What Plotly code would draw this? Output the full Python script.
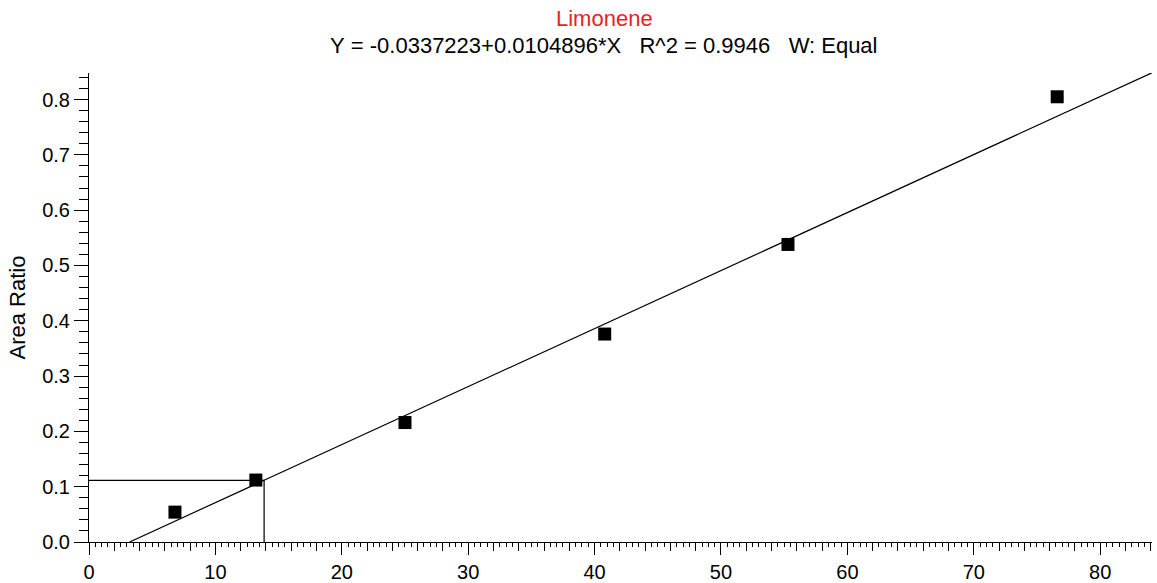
import plotly.graph_objects as go
import numpy as np

# Calibration standards
conc = [6.8, 13.2, 25.0, 40.8, 55.3, 76.6]
area_ratio = [0.054, 0.112, 0.216, 0.376, 0.538, 0.805]

# Regression (as reported)
intercept = -0.0337223
slope = 0.0104896
r2 = 0.9946
sample_ratio = 0.1116

x_max = 84.1
y_max = 0.848

W, H = 1157, 583
L, R, T, B = 89, 5, 73, 41

x0 = -intercept / slope
line_x = [x0, x_max]
line_y = [intercept + slope * v for v in line_x]
sample_x = (sample_ratio - intercept) / slope

fig = go.Figure()
fig.add_trace(go.Scatter(x=line_x, y=line_y, mode="lines",
                         line=dict(color="black", width=1.2), hoverinfo="skip"))
fig.add_trace(go.Scatter(x=[0, sample_x, sample_x], y=[sample_ratio, sample_ratio, 0],
                         mode="lines", line=dict(color="black", width=1.2), hoverinfo="skip"))
fig.add_trace(go.Scatter(x=conc, y=area_ratio, mode="markers",
                         marker=dict(symbol="square", size=13, color="black",
                                     line=dict(width=0))))
# invisible trace for secondary tick axis
fig.add_trace(go.Scatter(x=[0], y=[0], xaxis="x2", mode="markers",
                         marker=dict(opacity=0), hoverinfo="skip"))

font = "Liberation Sans, Arial, sans-serif"
fig.update_layout(
    width=W, height=H,
    margin=dict(l=L, r=R, t=T, b=B, autoexpand=False),
    paper_bgcolor="white", plot_bgcolor="white",
    showlegend=False,
    font=dict(family=font, color="black"),
    xaxis=dict(range=[0, x_max], dtick=10, tick0=0, showgrid=False, zeroline=False,
               automargin=False,
               showline=True, linecolor="black", linewidth=1,
               ticks="outside", ticklen=12, tickwidth=1, tickcolor="black",
               tickfont=dict(size=20, color="black"),
               minor=dict(dtick=2, tick0=0, ticks="outside", ticklen=8, tickwidth=1,
                          tickcolor="black", showgrid=False)),
    xaxis2=dict(range=[0, x_max], overlaying="x", anchor="y", side="bottom",
                automargin=False,
                dtick=0.5, tick0=0, showgrid=False, zeroline=False, showline=False,
                ticks="outside", ticklen=4, tickwidth=1, tickcolor="black",
                showticklabels=False),
    yaxis=dict(range=[0, y_max], dtick=0.1, tick0=0, tickformat=".1f",
               automargin=False,
               showgrid=False, zeroline=False,
               showline=True, linecolor="black", linewidth=1,
               ticks="outside", ticklen=14, tickwidth=1, tickcolor="black",
               tickfont=dict(size=20, color="black"),
               title=dict(text="Area Ratio", font=dict(size=22, color="black"), standoff=10),
               minor=dict(dtick=0.02, tick0=0, ticks="outside", ticklen=9, tickwidth=1,
                          tickcolor="black", showgrid=False)),
)

cx = (604 - L) / (W - L - R)
fig.add_annotation(text="Limonene", xref="paper", yref="paper", x=cx,
                   y=1 + (T - 19) / (H - T - B), xanchor="center", yanchor="middle",
                   showarrow=False, font=dict(size=22, color="#e8231e", family=font))
fig.add_annotation(text=f"Y = {intercept}+{slope}*X   R^2 = {r2}   W: Equal".replace(" ", "\u00a0") ,
                   xref="paper", yref="paper", x=cx,
                   y=1 + (T - 45) / (H - T - B), xanchor="center", yanchor="middle",
                   showarrow=False, font=dict(size=22, color="black", family=font))

fig.write_html("out.html")
